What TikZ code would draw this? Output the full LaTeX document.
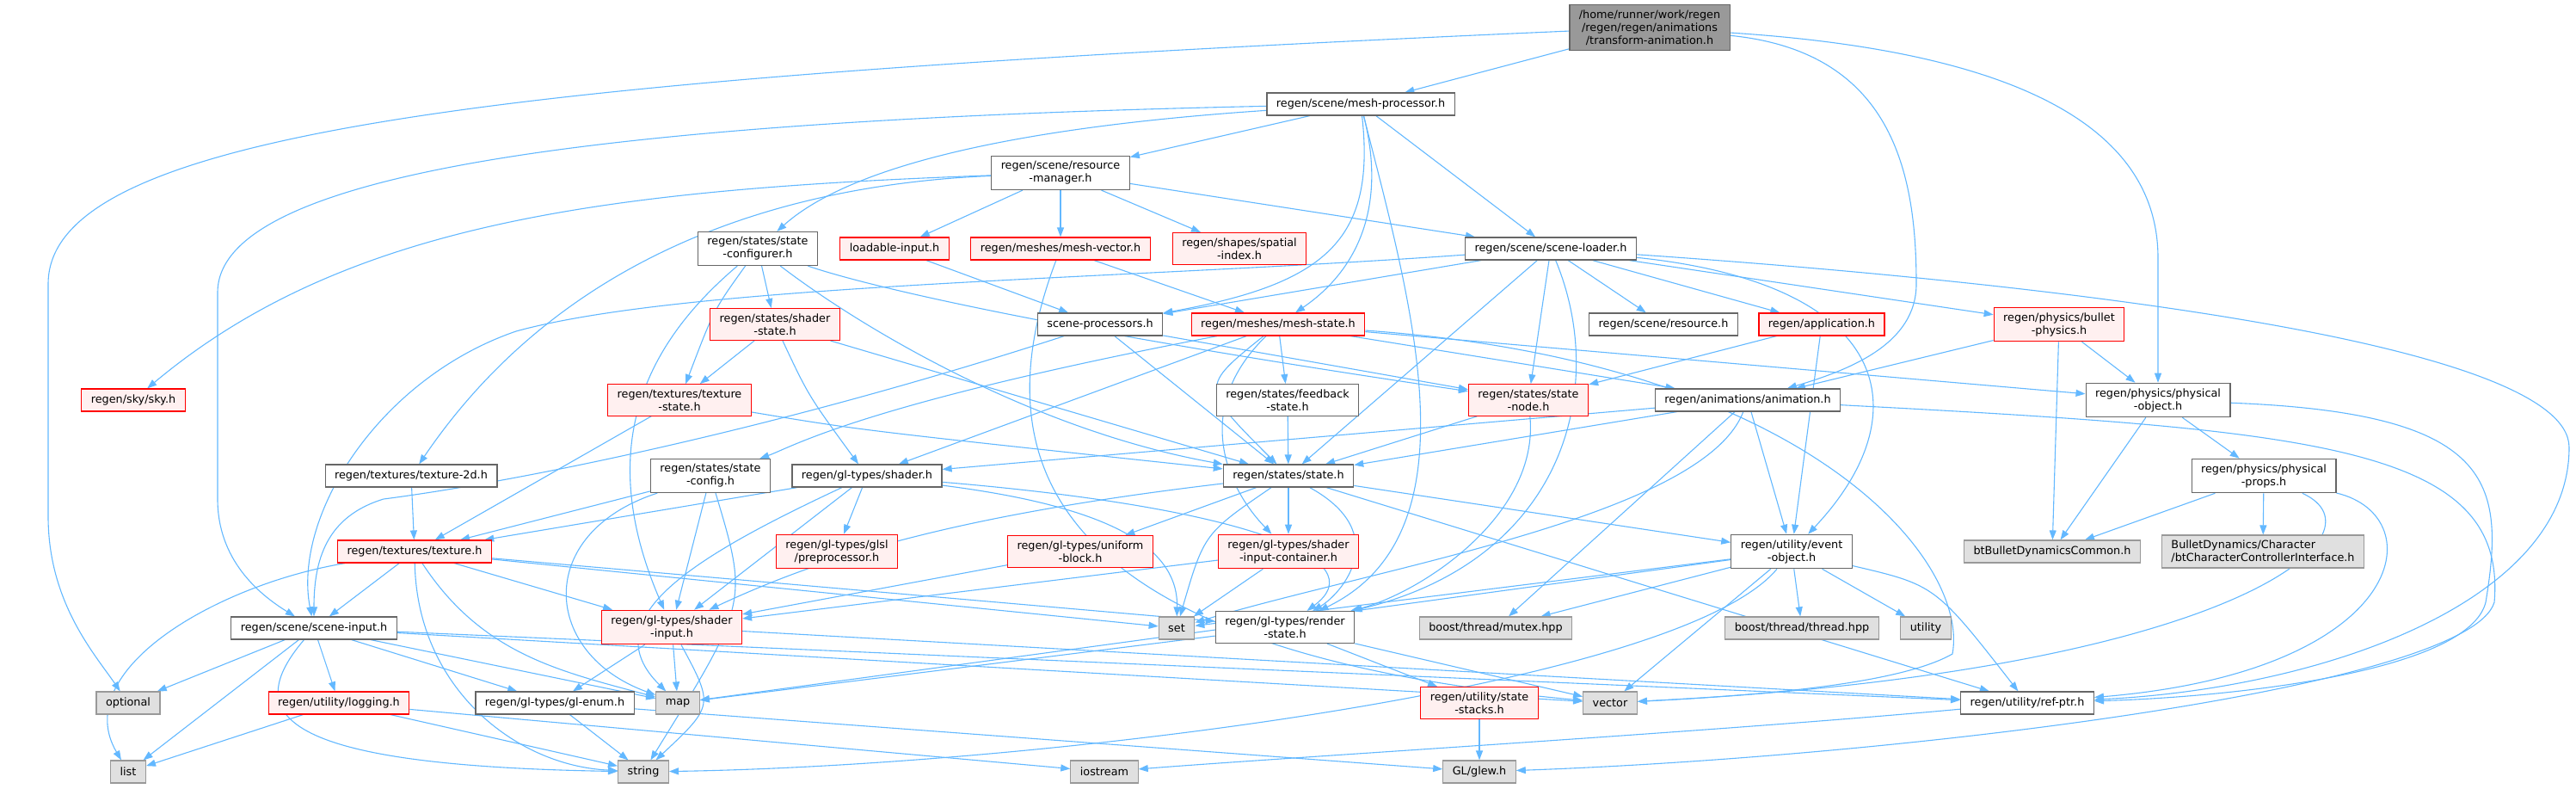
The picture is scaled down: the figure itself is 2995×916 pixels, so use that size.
\documentclass[tikz,border=0pt]{standalone}
\usepackage{fontspec}
\setmainfont{DejaVu Sans}
\usepackage{tikz}
\usetikzlibrary{arrows.meta, positioning, backgrounds}
\definecolor{edgeblue}{HTML}{63B8FF}
\definecolor{boxgray}{HTML}{666666}
\definecolor{redfill}{HTML}{FFF0F0}
\definecolor{extfill}{HTML}{E0E0E0}
\definecolor{extgray}{HTML}{999999}
\definecolor{rootfill}{HTML}{999999}
\begin{document}
\begin{tikzpicture}[
    x=1pt, y=-1pt,
    every node/.style={font=\fontsize{12.8pt}{15pt}\selectfont, inner xsep=11pt, inner ysep=6pt, minimum height=26pt, align=center},
    box/.style={draw=boxgray, fill=white, rectangle, line width=1.2pt},
    redbox/.style={draw=red, fill=redfill, rectangle, line width=1.2pt},
    extbox/.style={draw=extgray, fill=extfill, rectangle, line width=1.2pt},
    rootbox/.style={draw=boxgray, fill=rootfill, rectangle, line width=1.2pt},
    arrow/.style={line width=1.1pt, draw=edgeblue, ->, >={Stealth[inset=0pt, length=11pt, width=8pt]}}
]
\useasboundingbox (0,0) rectangle (2995,916);

\node (root) [rootbox] at (1918,32) {/home/runner/work/regen\\/regen/regen/animations\\/transform-animation.h};
\node (meshproc) [box] at (1582,121) {regen/scene/mesh-processor.h};
\node (resmgr) [box] at (1233,201) {regen/scene/resource\\-manager.h};
\node (stconf) [box] at (881,289) {regen/states/state\\-configurer.h};
\node (loadin) [redbox] at (1040,289) {loadable-input.h};
\node (meshvec) [redbox] at (1233,289) {regen/meshes/mesh-vector.h};
\node (spatial) [redbox] at (1441,289) {regen/shapes/spatial\\-index.h};
\node (sceneld) [box] at (1803,289) {regen/scene/scene-loader.h};
\node (shstate) [redbox] at (901,377) {regen/states/shader\\-state.h};
\node (sceneproc) [box] at (1279,377) {scene-processors.h};
\node (meshst) [redbox] at (1486,377) {regen/meshes/mesh-state.h};
\node (resource) [box] at (1934,377) {regen/scene/resource.h};
\node (app) [redbox] at (2118,377) {regen/application.h};
\node (bullet) [redbox] at (2394,377) {regen/physics/bullet\\-physics.h};
\node (sky) [redbox] at (155,465) {regen/sky/sky.h};
\node (texstate) [redbox] at (790,465) {regen/textures/texture\\-state.h};
\node (feedback) [box] at (1497,465) {regen/states/feedback\\-state.h};
\node (stnode) [redbox] at (1777,465) {regen/states/state\\-node.h};
\node (anim) [box] at (2032,465) {regen/animations/animation.h};
\node (physobj) [box] at (2509,465) {regen/physics/physical\\-object.h};
\node (tex2d) [box] at (478,553) {regen/textures/texture-2d.h};
\node (stconfig) [box] at (826,553) {regen/states/state\\-config.h};
\node (shader) [box] at (1008,553) {regen/gl-types/shader.h};
\node (state) [box] at (1498,553) {regen/states/state.h};
\node (physprops) [box] at (2632,553) {regen/physics/physical\\-props.h};
\node (texture) [redbox] at (482,641) {regen/textures/texture.h};
\node (glsl) [redbox] at (973,641) {regen/gl-types/glsl\\/preprocessor.h};
\node (ublock) [redbox] at (1256,641) {regen/gl-types/uniform\\-block.h};
\node (sic) [redbox] at (1498,641) {regen/gl-types/shader\\-input-container.h};
\node (evobj) [box] at (2083,641) {regen/utility/event\\-object.h};
\node (btbullet) [extbox] at (2386,641) {btBulletDynamicsCommon.h};
\node (btchar) [extbox, align=left] at (2631,641) {BulletDynamics/Character\\/btCharacterControllerInterface.h};
\node (scinput) [box] at (365,730) {regen/scene/scene-input.h};
\node (shinput) [redbox] at (781,729) {regen/gl-types/shader\\-input.h};
\node (stdset) [extbox] at (1368,730) {set};
\node (render) [box] at (1494,729) {regen/gl-types/render\\-state.h};
\node (mutex) [extbox] at (1739,730) {boost/thread/mutex.hpp};
\node (thread) [extbox] at (2095,730) {boost/thread/thread.hpp};
\node (stdutility) [extbox] at (2239,730) {utility};
\node (stdoptional) [extbox] at (149,817) {optional};
\node (logging) [redbox] at (394,817) {regen/utility/logging.h};
\node (glenum) [box] at (645,817) {regen/gl-types/gl-enum.h};
\node (stdmap) [extbox] at (788,817) {map};
\node (stacks) [redbox] at (1720,817) {regen/utility/state\\-stacks.h};
\node (stdvector) [extbox] at (1872,817) {vector};
\node (refptr) [box] at (2357,817) {regen/utility/ref-ptr.h};
\node (stdlist) [extbox] at (149,897) {list};
\node (stdstring) [extbox] at (748,897) {string};
\node (iostream) [extbox] at (1284,897) {iostream};
\node (glew) [extbox] at (1720,897) {GL/glew.h};

\begin{scope}[on background layer]
\draw [arrow] (root) -- (meshproc);
\draw [arrow] (root) .. controls (600,90) and (56,150) .. (56,330) -- (56,600) .. controls (56,700) and (110,760) .. (stdoptional);
\draw [arrow] (root) .. controls (2200,60) and (2228,200) .. (2228,330) .. controls (2228,400) and (2150,430) .. (anim);
\draw [arrow] (root) .. controls (2350,60) and (2509,150) .. (2509,300) -- (physobj);
\draw [arrow] (meshproc) -- (resmgr);
\draw [arrow] (meshproc) -- (sceneld);
\draw [arrow] (meshproc) .. controls (700,140) and (253,200) .. (253,340) -- (253,580) .. controls (253,650) and (300,690) .. (scinput);
\draw [arrow] (meshproc) .. controls (1150,150) and (980,200) .. (stconf);
\draw [arrow] (meshproc) .. controls (1600,280) and (1540,330) .. (sceneproc);
\draw [arrow] (meshproc) .. controls (1615,250) and (1570,320) .. (meshst);
\draw [arrow] (meshproc) .. controls (1640,350) and (1720,620) .. (render);
\draw [arrow] (resmgr) -- (loadin);
\draw [arrow] (resmgr) -- (meshvec);
\draw [arrow] (resmgr) -- (spatial);
\draw [arrow] (resmgr) -- (sceneld);
\draw [arrow] (resmgr) .. controls (700,220) and (400,260) .. (sky);
\draw [arrow] (resmgr) .. controls (900,215) and (650,300) .. (tex2d);
\draw [arrow] (stconf) -- (shstate);
\draw [arrow] (stconf) .. controls (830,360) .. (texstate);
\draw [arrow] (stconf) .. controls (1000,330) and (1200,380) .. (stnode);
\draw [arrow] (stconf) .. controls (1000,380) and (1200,500) .. (state);
\draw [arrow] (stconf) .. controls (750,400) and (690,520) .. (shinput);
\draw [arrow] (loadin) -- (sceneproc);
\draw [arrow] (meshvec) -- (meshst);
\draw [arrow] (meshvec) .. controls (1130,560) and (1250,760) .. (stdvector);
\draw [arrow] (sceneld) -- (sceneproc);
\draw [arrow] (sceneld) -- (stnode);
\draw [arrow] (sceneld) -- (state);
\draw [arrow] (sceneld) -- (resource);
\draw [arrow] (sceneld) -- (app);
\draw [arrow] (sceneld) -- (bullet);
\draw [arrow] (sceneld) .. controls (2200,330) and (2235,480) .. (evobj);
\draw [arrow] (sceneld) .. controls (1870,450) and (1820,650) .. (render);
\draw [arrow] (sceneld) .. controls (1300,325) and (800,330) .. (600,385) .. controls (440,440) and (340,600) .. (scinput);
\draw [arrow] (sceneld) .. controls (2400,330) and (2987,400) .. (2987,520) .. controls (2987,700) and (2700,800) .. (refptr);
\draw [arrow] (sceneproc) .. controls (900,500) and (600,560) .. (446,580) .. controls (380,600) and (365,650) .. (scinput);
\draw [arrow] (sceneproc) -- (state);
\draw [arrow] (sceneproc) -- (stnode);
\draw [arrow] (meshst) -- (feedback);
\draw [arrow] (meshst) .. controls (1395,450) .. (state);
\draw [arrow] (meshst) -- (shader);
\draw [arrow] (meshst) .. controls (1000,470) and (920,520) .. (stconfig);
\draw [arrow] (meshst) .. controls (1390,470) and (1420,560) .. (sic);
\draw [arrow] (meshst) -- (anim);
\draw [arrow] (meshst) -- (physobj);
\draw [arrow] (meshst) .. controls (2100,420) and (2290,650) .. (2270,760) .. controls (2200,800) and (2000,810) .. (stdvector);
\draw [arrow] (shstate) -- (texstate);
\draw [arrow] (shstate) .. controls (940,460) .. (shader);
\draw [arrow] (shstate) -- (state);
\draw [arrow] (texstate) -- (texture);
\draw [arrow] (texstate) .. controls (1000,500) .. (state);
\draw [arrow] (tex2d) -- (texture);
\draw [arrow] (stconfig) -- (texture);
\draw [arrow] (stconfig) -- (shinput);
\draw [arrow] (stconfig) .. controls (620,620) and (630,760) .. (stdmap);
\draw [arrow] (stconfig) .. controls (870,700) .. (stdstring);
\draw [arrow] (shader) -- (texture);
\draw [arrow] (shader) -- (shinput);
\draw [arrow] (shader) -- (glsl);
\draw [arrow] (shader) .. controls (800,650) and (690,720) .. (stdmap);
\draw [arrow] (shader) .. controls (1300,590) and (1370,640) .. (stdset);
\draw [arrow] (shader) .. controls (1450,590) and (1600,650) .. (render);
\draw [arrow] (texture) -- (scinput);
\draw [arrow] (texture) .. controls (250,680) and (80,780) .. (stdlist);
\draw [arrow] (texture) .. controls (485,800) and (600,890) .. (stdstring);
\draw [arrow] (texture) .. controls (560,760) and (650,780) .. (stdmap);
\draw [arrow] (texture) -- (shinput);
\draw [arrow] (texture) -- (stdset);
\draw [arrow] (texture) -- (render);
\draw [arrow] (scinput) -- (stdoptional);
\draw [arrow] (scinput) -- (stdlist);
\draw [arrow] (scinput) .. controls (280,830) and (320,890) .. (stdstring);
\draw [arrow] (scinput) -- (logging);
\draw [arrow] (scinput) -- (glenum);
\draw [arrow] (scinput) -- (stdmap);
\draw [arrow] (scinput) -- (refptr);
\draw [arrow] (scinput) -- (stdvector);
\draw [arrow] (shinput) -- (glenum);
\draw [arrow] (shinput) -- (stdmap);
\draw [arrow] (shinput) .. controls (830,820) .. (stdstring);
\draw [arrow] (shinput) -- (refptr);
\draw [arrow] (logging) -- (stdlist);
\draw [arrow] (logging) -- (stdstring);
\draw [arrow] (logging) -- (iostream);
\draw [arrow] (glenum) -- (stdstring);
\draw [arrow] (glenum) -- (glew);
\draw [arrow] (state) .. controls (1100,600) and (950,650) .. (shinput);
\draw [arrow] (state) -- (ublock);
\draw [arrow] (state) -- (sic);
\draw [arrow] (state) .. controls (1620,620) and (1560,690) .. (render);
\draw [arrow] (state) .. controls (1400,620) .. (stdset);
\draw [arrow] (state) -- (evobj);
\draw [arrow] (state) -- (refptr);
\draw [arrow] (ublock) -- (shinput);
\draw [arrow] (sic) -- (shinput);
\draw [arrow] (sic) -- (stdset);
\draw [arrow] (render) -- (stdmap);
\draw [arrow] (render) -- (stacks);
\draw [arrow] (render) -- (stdvector);
\draw [arrow] (stacks) -- (glew);
\draw [arrow] (stnode) .. controls (1790,600) and (1650,690) .. (render);
\draw [arrow] (stnode) -- (state);
\draw [arrow] (feedback) -- (state);
\draw [arrow] (anim) -- (state);
\draw [arrow] (anim) -- (shader);
\draw [arrow] (anim) -- (evobj);
\draw [arrow] (anim) -- (mutex);
\draw [arrow] (anim) .. controls (1980,600) and (1600,660) .. (stdset);
\draw [arrow] (anim) .. controls (2700,500) and (2915,520) .. (2900,700) .. controls (2870,800) and (2200,880) .. (glew);
\draw [arrow] (evobj) -- (stdset);
\draw [arrow] (evobj) -- (mutex);
\draw [arrow] (evobj) -- (thread);
\draw [arrow] (evobj) -- (stdutility);
\draw [arrow] (evobj) -- (stdvector);
\draw [arrow] (evobj) -- (stdmap);
\draw [arrow] (evobj) .. controls (1950,800) and (1200,890) .. (stdstring);
\draw [arrow] (evobj) .. controls (2250,680) .. (refptr);
\draw [arrow] (app) -- (stnode);
\draw [arrow] (app) -- (evobj);
\draw [arrow] (bullet) -- (anim);
\draw [arrow] (bullet) -- (physobj);
\draw [arrow] (bullet) -- (btbullet);
\draw [arrow] (physobj) -- (physprops);
\draw [arrow] (physobj) -- (btbullet);
\draw [arrow] (physobj) .. controls (2900,480) and (2913,560) .. (2890,700) .. controls (2870,780) and (2600,810) .. (refptr);
\draw [arrow] (physprops) -- (btbullet);
\draw [arrow] (physprops) -- (btchar);
\draw [arrow] (physprops) .. controls (2830,600) and (2800,780) .. (refptr);
\draw [arrow] (physprops) .. controls (2780,620) and (2600,780) .. (stdvector);
\draw [arrow] (refptr) .. controls (2000,850) and (1500,880) .. (iostream);
\end{scope}

\end{tikzpicture}
\end{document}
